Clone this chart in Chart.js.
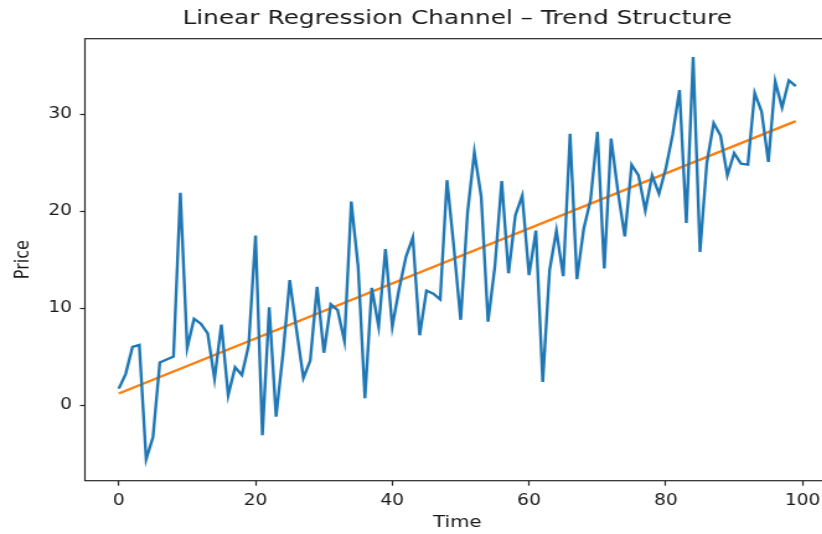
<!DOCTYPE html>
<html>
<head>
<meta charset="utf-8">
<script src="https://cdn.jsdelivr.net/npm/chart.js@4.4.1/dist/chart.umd.min.js"></script>
<style>
  html, body { margin: 0; padding: 0; background: #ffffff; overflow: hidden; width: 822px; height: 534px; }
  #wrap { position: absolute; left: 0; top: 0; width: 671px; height: 534px; transform: scaleX(1.24); transform-origin: 0 0; }
  canvas { display: block; }
</style>
</head>
<body>
<div id="wrap"><canvas id="c" width="671" height="534"></canvas></div>
<script>
// ---- data ----
const timeValues = [
  0, 1, 2, 3, 4, 5, 6, 7, 8, 9,
  10, 11, 12, 13, 14, 15, 16, 17, 18, 19,
  20, 21, 22, 23, 24, 25, 26, 27, 28, 29,
  30, 31, 32, 33, 34, 35, 36, 37, 38, 39,
  40, 41, 42, 43, 44, 45, 46, 47, 48, 49,
  50, 51, 52, 53, 54, 55, 56, 57, 58, 59,
  60, 61, 62, 63, 64, 65, 66, 67, 68, 69,
  70, 71, 72, 73, 74, 75, 76, 77, 78, 79,
  80, 81, 82, 83, 84, 85, 86, 87, 88, 89,
  90, 91, 92, 93, 94, 95, 96, 97, 98, 99
];
const priceValues = [
  1.7, 3.2, 6.0, 6.2, -5.6, -3.3, 4.4, 4.7, 5.0, 21.9,
  5.9, 8.9, 8.4, 7.4, 2.7, 8.3, 1.0, 3.9, 3.1, 6.2,
  17.5, -3.1, 10.1, -1.2, 5.2, 12.9, 7.7, 2.8, 4.6, 12.2,
  5.4, 10.4, 9.8, 6.6, 21.0, 14.3, 0.7, 12.1, 8.1, 16.1,
  8.1, 12.0, 15.3, 17.3, 7.2, 11.8, 11.5, 10.9, 23.2, 16.3,
  8.8, 19.8, 26.1, 21.5, 8.6, 14.3, 23.1, 13.6, 19.6, 21.6,
  13.4, 18.0, 2.4, 13.9, 18.0, 13.3, 28.0, 13.0, 18.2, 21.2,
  28.2, 14.1, 27.5, 22.0, 17.4, 24.8, 23.7, 20.1, 23.7, 21.8,
  24.4, 27.9, 32.5, 18.8, 35.9, 15.8, 25.0, 29.1, 27.8, 23.7,
  26.0, 24.9, 24.8, 32.2, 30.3, 25.1, 33.4, 30.7, 33.5, 32.9
];
const trendTime = [0, 99];
const trendValues = [1.2, 29.3];
const xTickValues = [0, 20, 40, 60, 80, 100];
const yTickValues = [0, 10, 20, 30];

const titleText = 'Linear Regression Channel \u2013 Trend Structure';
const xLabel = 'Time';
const yLabel = 'Price';

// ---- build ----
const pricePoints = timeValues.map((t, i) => ({ x: t, y: priceValues[i] }));
const trendPoints = trendTime.map((t, i) => ({ x: t, y: trendValues[i] }));

const FONT = "'DejaVu Sans', sans-serif";
const INK = '#1a1a1a';
const SPINE = '#262626';

const frame = {
  id: 'frame',
  afterDraw(chart) {
    const { ctx, chartArea: a } = chart;
    ctx.save();
    ctx.strokeStyle = SPINE;
    ctx.lineWidth = 1.2;
    ctx.strokeRect(a.left, a.top, a.right - a.left, a.bottom - a.top);
    ctx.restore();
  }
};
const white = {
  id: 'white',
  beforeDraw(chart) {
    const { ctx, width, height } = chart;
    ctx.save();
    ctx.fillStyle = '#ffffff';
    ctx.fillRect(0, 0, width, height);
    ctx.restore();
  }
};

new Chart(document.getElementById('c'), {
  type: 'line',
  data: {
    datasets: [
      {
        label: 'Price',
        data: pricePoints,
        borderColor: '#1f77b4',
        borderWidth: 2.4,
        pointRadius: 0,
        tension: 0,
        fill: false
      },
      {
        label: 'Trend',
        data: trendPoints,
        borderColor: '#ff7f0e',
        borderWidth: 2.4,
        pointRadius: 0,
        tension: 0,
        fill: false
      }
    ]
  },
  options: {
    responsive: false,
    animation: false,
    devicePixelRatio: 1,
    layout: { padding: { left: 0, right: 2, top: 0, bottom: 0 } },
    plugins: {
      legend: { display: false },
      tooltip: { enabled: false },
      title: {
        display: true,
        text: titleText,
        fullSize: false,
        color: INK,
        font: { family: FONT, size: 20, weight: 'normal', lineHeight: 1.2 },
        padding: { top: 7, bottom: 7.7 }
      }
    },
    scales: {
      x: {
        type: 'linear',
        min: -4.95,
        max: 103.95,
        border: { display: false },
        grid: { display: true, drawOnChartArea: false, drawTicks: true, tickLength: 5, tickColor: SPINE, tickWidth: 1.2 },
        afterBuildTicks(scale) { scale.ticks = xTickValues.map(v => ({ value: v })); },
        afterFit(scale) { scale.height = 53.3; },
        ticks: { color: INK, font: { family: FONT, size: 15 }, padding: 6, maxRotation: 0, autoSkip: false },
        title: { display: true, text: xLabel, color: INK, font: { family: FONT, size: 16 }, padding: { top: 0, bottom: 1.5 } }
      },
      y: {
        type: 'linear',
        min: -7.8,
        max: 37.8,
        border: { display: false },
        grid: { display: true, drawOnChartArea: false, drawTicks: true, tickLength: 4, tickColor: SPINE, tickWidth: 1.2 },
        afterBuildTicks(scale) { scale.ticks = yTickValues.map(v => ({ value: v })); },
        afterFit(scale) { scale.width = 68.5; },
        ticks: { color: INK, font: { family: FONT, size: 15 }, padding: 6.5 },
        title: { display: true, text: yLabel, color: INK, font: { family: FONT, size: 16 }, padding: { top: 9, bottom: 0 } }
      }
    }
  },
  plugins: [white, frame]
});
</script>
</body>
</html>
